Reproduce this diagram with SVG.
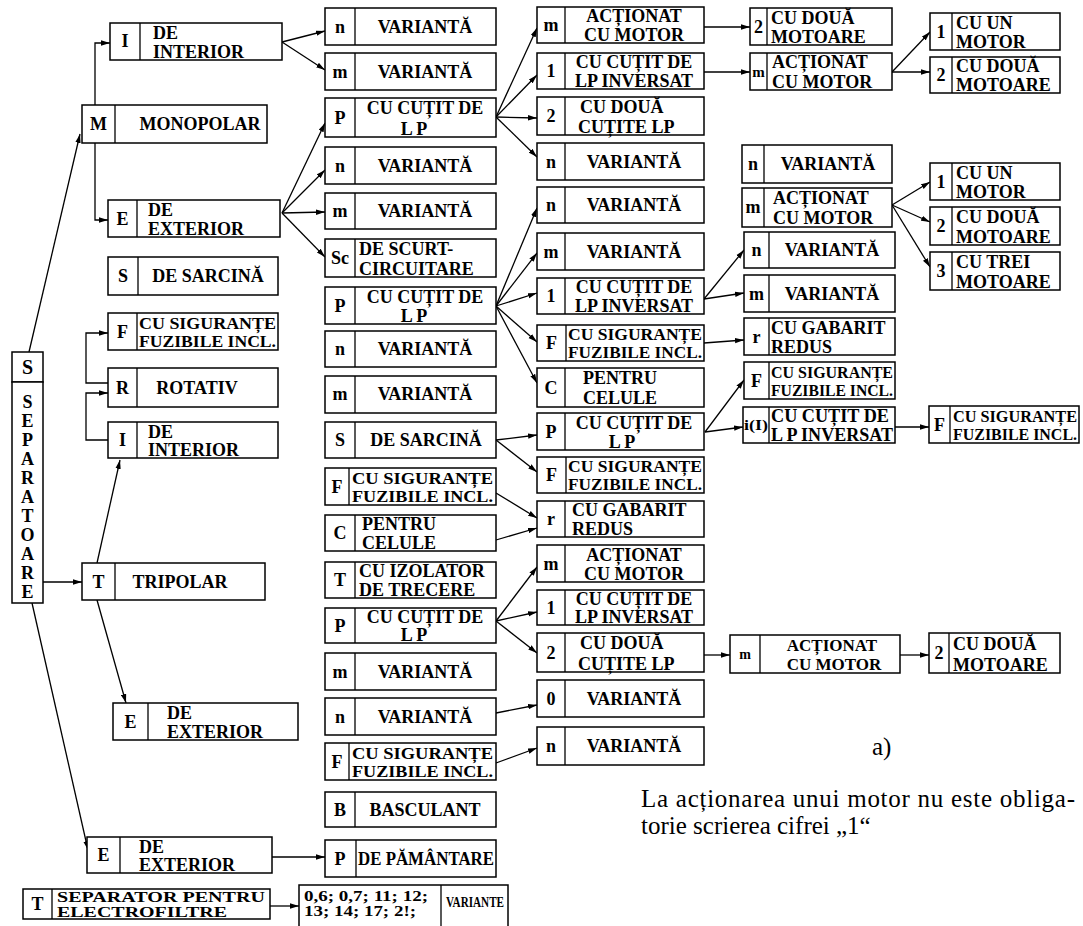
<svg xmlns="http://www.w3.org/2000/svg" width="1083" height="926" viewBox="0 0 1083 926">
<defs>
<style>
.b{fill:#fff;stroke:#000;stroke-width:1.5}
.d{stroke:#000;stroke-width:1.3}
.t{font-family:"Liberation Serif","Times New Roman",serif;font-weight:bold;font-size:18px;fill:#000}
.c{text-anchor:middle}
.s{font-size:16px}
.n{font-family:"Liberation Serif","Times New Roman",serif;font-size:25px;fill:#000}
#conn path{fill:none;stroke:#000;stroke-width:1.3;marker-end:url(#a)}
</style>
<marker id="a" viewBox="0 0 10 6" refX="10" refY="3" markerWidth="9" markerHeight="6" markerUnits="userSpaceOnUse" orient="auto"><path d="M0,0L10,3L0,6z" fill="#000"/></marker>
</defs>
<rect width="1083" height="926" fill="#fff"/>

<g id="conn">
<path d="M29,352L80,134"/>
<path d="M95,105V43H110"/>
<path d="M95,143V220H108"/>
<path d="M282,42L325,31"/>
<path d="M282,42L325,70"/>
<path d="M282,213L325,123"/>
<path d="M282,213L325,170"/>
<path d="M282,213L325,212"/>
<path d="M282,213L325,257"/>
<path d="M108,383H86V333H108"/>
<path d="M108,440H86V393H108"/>
<path d="M43,582H82"/>
<path d="M97,563L120,460"/>
<path d="M97,600L126,703"/>
<path d="M32,603L88,850"/>
<path d="M272,857H325"/>
<path d="M270,906H299"/>
<path d="M496,117L537,28"/>
<path d="M496,117L537,75"/>
<path d="M496,117L537,118"/>
<path d="M496,117L537,157"/>
<path d="M496,306L537,208"/>
<path d="M496,306L537,253"/>
<path d="M496,306L537,293"/>
<path d="M496,306L537,342"/>
<path d="M496,306L537,383"/>
<path d="M496,440L537,435"/>
<path d="M496,440L537,472"/>
<path d="M496,493L537,518"/>
<path d="M496,540L537,528"/>
<path d="M496,621L537,567"/>
<path d="M496,621L537,612"/>
<path d="M496,621L537,653"/>
<path d="M496,713L537,705"/>
<path d="M496,763L537,748"/>
<path d="M704,27H750"/>
<path d="M704,72H750"/>
<path d="M892,72L930,32"/>
<path d="M892,72H930"/>
<path d="M892,205L930,182"/>
<path d="M892,205L930,222"/>
<path d="M892,205L930,267"/>
<path d="M704,299L744,250"/>
<path d="M704,299L744,293"/>
<path d="M704,343L744,340"/>
<path d="M705,432L744,380"/>
<path d="M705,432L743,427"/>
<path d="M895,427H929"/>
<path d="M704,655H730"/>
<path d="M900,655H929"/>
</g>

<!-- left column -->
<g id="sep">
<rect class="b" x="12" y="352" width="31" height="30"/>
<text class="t c" x="27.5" y="374" style="font-size:20px">S</text>
<rect class="b" x="12" y="382" width="31" height="221"/>
<text class="t c" x="27.5" y="408">S</text>
<text class="t c" x="27.5" y="427">E</text>
<text class="t c" x="27.5" y="446">P</text>
<text class="t c" x="27.5" y="465">A</text>
<text class="t c" x="27.5" y="484">R</text>
<text class="t c" x="27.5" y="503">A</text>
<text class="t c" x="27.5" y="522">T</text>
<text class="t c" x="27.5" y="541">O</text>
<text class="t c" x="27.5" y="560">A</text>
<text class="t c" x="27.5" y="579">R</text>
<text class="t c" x="27.5" y="598">E</text>
</g>
<g id="mono">
<rect class="b" x="82" y="105" width="185" height="38"/><line class="d" x1="115" y1="105" x2="115" y2="143"/>
<text class="t c" x="98.5" y="130">M</text><text class="t c" x="200" y="130">MONOPOLAR</text>
</g>
<g id="mono-int">
<rect class="b" x="110" y="23" width="172" height="37"/><line class="d" x1="140" y1="23" x2="140" y2="60"/>
<text class="t c" x="125" y="47">I</text><text class="t" x="153" y="39">DE</text><text class="t" x="153" y="58">INTERIOR</text>
</g>
<g id="mono-ext">
<rect class="b" x="108" y="200" width="172" height="37"/><line class="d" x1="137" y1="200" x2="137" y2="237"/>
<text class="t c" x="122.5" y="225">E</text><text class="t" x="148" y="216">DE</text><text class="t" x="148" y="235">EXTERIOR</text>
</g>
<g id="mono-sarc">
<rect class="b" x="108" y="257" width="170" height="38"/><line class="d" x1="138" y1="257" x2="138" y2="295"/>
<text class="t c" x="123" y="282">S</text><text class="t c" x="208" y="282">DE SARCINĂ</text>
</g>
<g id="l-fuz">
<rect class="b" x="108" y="313" width="170" height="37"/><line class="d" x1="137" y1="313" x2="137" y2="350"/>
<text class="t c" x="122.5" y="338">F</text>
<text class="t s" x="139" y="329" textLength="137" lengthAdjust="spacingAndGlyphs">CU SIGURANȚE</text>
<text class="t s" x="139" y="347" textLength="137" lengthAdjust="spacingAndGlyphs">FUZIBILE INCL.</text>
</g>
<g id="rot">
<rect class="b" x="108" y="368" width="170" height="39"/><line class="d" x1="137" y1="368" x2="137" y2="407"/>
<text class="t c" x="122.5" y="394">R</text><text class="t c" x="197" y="394">ROTATIV</text>
</g>
<g id="tri-int">
<rect class="b" x="108" y="422" width="170" height="36"/><line class="d" x1="137" y1="422" x2="137" y2="458"/>
<text class="t c" x="122.5" y="446">I</text><text class="t" x="148" y="438">DE</text><text class="t" x="148" y="456">INTERIOR</text>
</g>
<g id="tri">
<rect class="b" x="82" y="563" width="183" height="37"/><line class="d" x1="115" y1="563" x2="115" y2="600"/>
<text class="t c" x="98.5" y="588">T</text><text class="t c" x="180" y="588">TRIPOLAR</text>
</g>
<g id="tri-ext">
<rect class="b" x="113" y="703" width="185" height="37"/><line class="d" x1="148" y1="703" x2="148" y2="740"/>
<text class="t c" x="130.5" y="728">E</text><text class="t" x="167" y="719">DE</text><text class="t" x="167" y="738">EXTERIOR</text>
</g>
<g id="ext2">
<rect class="b" x="87" y="837" width="185" height="36"/><line class="d" x1="120" y1="837" x2="120" y2="873"/>
<text class="t c" x="103.5" y="861">E</text><text class="t" x="139" y="853">DE</text><text class="t" x="139" y="871">EXTERIOR</text>
</g>
<g id="electro">
<rect class="b" x="23" y="889" width="247" height="30"/><line class="d" x1="52" y1="889" x2="52" y2="919"/>
<text class="t c" x="37.5" y="910">T</text>
<text class="t" x="57" y="902" style="font-size:15px" textLength="208" lengthAdjust="spacingAndGlyphs">SEPARATOR PENTRU</text>
<text class="t" x="57" y="917" style="font-size:15px" textLength="170" lengthAdjust="spacingAndGlyphs">ELECTROFILTRE</text>
</g>

<!-- column 2 -->
<g id="c2-1"><rect class="b" x="325" y="8" width="171" height="37"/><line class="d" x1="355" y1="8" x2="355" y2="45"/><text class="t c" x="340" y="33">n</text><text class="t c" x="425" y="33">VARIANTĂ</text></g>
<g id="c2-2"><rect class="b" x="325" y="53" width="171" height="37"/><line class="d" x1="355" y1="53" x2="355" y2="90"/><text class="t c" x="340" y="78">m</text><text class="t c" x="425" y="78">VARIANTĂ</text></g>
<g id="c2-3"><rect class="b" x="325" y="98" width="171" height="39"/><line class="d" x1="355" y1="98" x2="355" y2="137"/><text class="t c" x="340" y="124">P</text><text class="t c" x="425" y="114">CU CUȚIT DE</text><text class="t c" x="414" y="135">L P</text></g>
<g id="c2-4"><rect class="b" x="325" y="147" width="171" height="37"/><line class="d" x1="355" y1="147" x2="355" y2="184"/><text class="t c" x="340" y="172">n</text><text class="t c" x="425" y="172">VARIANTĂ</text></g>
<g id="c2-5"><rect class="b" x="325" y="193" width="171" height="36"/><line class="d" x1="355" y1="193" x2="355" y2="229"/><text class="t c" x="340" y="217">m</text><text class="t c" x="425" y="217">VARIANTĂ</text></g>
<g id="c2-6"><rect class="b" x="325" y="239" width="171" height="38"/><line class="d" x1="355" y1="239" x2="355" y2="277"/><text class="t c" x="340" y="264">Sc</text><text class="t" x="359" y="255">DE SCURT-</text><text class="t" x="359" y="275">CIRCUITARE</text></g>
<g id="c2-7"><rect class="b" x="325" y="287" width="171" height="37"/><line class="d" x1="355" y1="287" x2="355" y2="324"/><text class="t c" x="340" y="312">P</text><text class="t c" x="425" y="303">CU CUȚIT DE</text><text class="t c" x="414" y="322">L P</text></g>
<g id="c2-8"><rect class="b" x="325" y="331" width="171" height="36"/><line class="d" x1="355" y1="331" x2="355" y2="367"/><text class="t c" x="340" y="355">n</text><text class="t c" x="425" y="355">VARIANTĂ</text></g>
<g id="c2-9"><rect class="b" x="325" y="376" width="171" height="37"/><line class="d" x1="355" y1="376" x2="355" y2="413"/><text class="t c" x="340" y="400">m</text><text class="t c" x="425" y="400">VARIANTĂ</text></g>
<g id="c2-10"><rect class="b" x="325" y="422" width="171" height="36"/><line class="d" x1="355" y1="422" x2="355" y2="458"/><text class="t c" x="340" y="446">S</text><text class="t c" x="426" y="446">DE SARCINĂ</text></g>
<g id="c2-11"><rect class="b" x="325" y="468" width="171" height="37"/><line class="d" x1="349" y1="468" x2="349" y2="505"/><text class="t c" x="337" y="493">F</text><text class="t s" x="352" y="484" textLength="141" lengthAdjust="spacingAndGlyphs">CU SIGURANȚE</text><text class="t s" x="352" y="502" textLength="141" lengthAdjust="spacingAndGlyphs">FUZIBILE INCL.</text></g>
<g id="c2-12"><rect class="b" x="325" y="515" width="171" height="36"/><line class="d" x1="355" y1="515" x2="355" y2="551"/><text class="t c" x="340" y="539">C</text><text class="t" x="362" y="530">PENTRU</text><text class="t" x="362" y="549">CELULE</text></g>
<g id="c2-13"><rect class="b" x="325" y="562" width="171" height="36"/><line class="d" x1="355" y1="562" x2="355" y2="598"/><text class="t c" x="340" y="586">T</text><text class="t" x="359" y="577">CU IZOLATOR</text><text class="t" x="359" y="596">DE TRECERE</text></g>
<g id="c2-14"><rect class="b" x="325" y="608" width="171" height="35"/><line class="d" x1="355" y1="608" x2="355" y2="643"/><text class="t c" x="340" y="632">P</text><text class="t c" x="425" y="623">CU CUȚIT DE</text><text class="t c" x="414" y="641">L P</text></g>
<g id="c2-15"><rect class="b" x="325" y="653" width="171" height="37"/><line class="d" x1="355" y1="653" x2="355" y2="690"/><text class="t c" x="340" y="678">m</text><text class="t c" x="425" y="678">VARIANTĂ</text></g>
<g id="c2-16"><rect class="b" x="325" y="698" width="171" height="37"/><line class="d" x1="355" y1="698" x2="355" y2="735"/><text class="t c" x="340" y="723">n</text><text class="t c" x="425" y="723">VARIANTĂ</text></g>
<g id="c2-17"><rect class="b" x="325" y="743" width="171" height="37"/><line class="d" x1="349" y1="743" x2="349" y2="780"/><text class="t c" x="337" y="768">F</text><text class="t s" x="352" y="759" textLength="141" lengthAdjust="spacingAndGlyphs">CU SIGURANȚE</text><text class="t s" x="352" y="777" textLength="141" lengthAdjust="spacingAndGlyphs">FUZIBILE INCL.</text></g>
<g id="c2-18"><rect class="b" x="325" y="792" width="171" height="35"/><line class="d" x1="355" y1="792" x2="355" y2="827"/><text class="t c" x="340" y="816">B</text><text class="t c" x="425" y="816">BASCULANT</text></g>
<g id="c2-19"><rect class="b" x="325" y="840" width="171" height="37"/><line class="d" x1="356" y1="840" x2="356" y2="877"/><text class="t c" x="340" y="865">P</text><text class="t" x="358" y="865" textLength="136" lengthAdjust="spacingAndGlyphs">DE PĂMÂNTARE</text></g>
<g id="c2-20"><rect class="b" x="299" y="885" width="209" height="50"/><line class="d" x1="441" y1="885" x2="441" y2="935"/><text class="t" x="304" y="901" style="font-size:15px" textLength="124" lengthAdjust="spacingAndGlyphs">0,6; 0,7; 11; 12;</text><text class="t" x="304" y="916" style="font-size:15px" textLength="112" lengthAdjust="spacingAndGlyphs">13; 14; 17; 2!;</text><text class="t" x="446" y="907" style="font-size:15px" textLength="58" lengthAdjust="spacingAndGlyphs">VARIANTE</text></g>

<!-- column 3 -->
<g id="c3-1"><rect class="b" x="537" y="7" width="167" height="36"/><line class="d" x1="565" y1="7" x2="565" y2="43"/><text class="t c" x="551" y="31">m</text><text class="t c" x="634" y="22">ACȚIONAT</text><text class="t c" x="634" y="41">CU MOTOR</text></g>
<g id="c3-2"><rect class="b" x="537" y="53" width="167" height="36"/><line class="d" x1="565" y1="53" x2="565" y2="89"/><text class="t c" x="551" y="77">1</text><text class="t c" x="634" y="68">CU CUȚIT DE</text><text class="t c" x="634" y="87">LP INVERSAT</text></g>
<g id="c3-3"><rect class="b" x="537" y="97" width="167" height="38"/><line class="d" x1="565" y1="97" x2="565" y2="135"/><text class="t c" x="551" y="122">2</text><text class="t" x="580" y="113">CU DOUĂ</text><text class="t" x="578" y="133">CUȚITE LP</text></g>
<g id="c3-4"><rect class="b" x="537" y="143" width="167" height="37"/><line class="d" x1="565" y1="143" x2="565" y2="180"/><text class="t c" x="551" y="168">n</text><text class="t c" x="634" y="168">VARIANTĂ</text></g>
<g id="c3-5"><rect class="b" x="537" y="187" width="167" height="36"/><line class="d" x1="565" y1="187" x2="565" y2="223"/><text class="t c" x="551" y="211">n</text><text class="t c" x="634" y="211">VARIANTĂ</text></g>
<g id="c3-6"><rect class="b" x="537" y="233" width="167" height="37"/><line class="d" x1="565" y1="233" x2="565" y2="270"/><text class="t c" x="551" y="258">m</text><text class="t c" x="634" y="258">VARIANTĂ</text></g>
<g id="c3-7"><rect class="b" x="537" y="278" width="167" height="36"/><line class="d" x1="565" y1="278" x2="565" y2="314"/><text class="t c" x="551" y="302">1</text><text class="t c" x="634" y="293">CU CUȚIT DE</text><text class="t c" x="634" y="312">LP INVERSAT</text></g>
<g id="c3-8"><rect class="b" x="537" y="325" width="167" height="36"/><line class="d" x1="566" y1="325" x2="566" y2="361"/><text class="t c" x="551.5" y="349">F</text><text class="t s" x="568" y="340" textLength="134" lengthAdjust="spacingAndGlyphs">CU SIGURANȚE</text><text class="t s" x="568" y="358" textLength="134" lengthAdjust="spacingAndGlyphs">FUZIBILE INCL.</text></g>
<g id="c3-9"><rect class="b" x="537" y="368" width="167" height="39"/><line class="d" x1="565" y1="368" x2="565" y2="407"/><text class="t c" x="551" y="394">C</text><text class="t c" x="620" y="384">PENTRU</text><text class="t c" x="620" y="404">CELULE</text></g>
<g id="c3-10"><rect class="b" x="537" y="413" width="167" height="37"/><line class="d" x1="565" y1="413" x2="565" y2="450"/><text class="t c" x="551" y="438">P</text><text class="t c" x="634" y="429">CU CUȚIT DE</text><text class="t c" x="622" y="448">L P</text></g>
<g id="c3-11"><rect class="b" x="537" y="457" width="167" height="36"/><line class="d" x1="566" y1="457" x2="566" y2="493"/><text class="t c" x="551.5" y="481">F</text><text class="t s" x="568" y="472" textLength="134" lengthAdjust="spacingAndGlyphs">CU SIGURANȚE</text><text class="t s" x="568" y="490" textLength="134" lengthAdjust="spacingAndGlyphs">FUZIBILE INCL.</text></g>
<g id="c3-12"><rect class="b" x="537" y="501" width="167" height="36"/><line class="d" x1="565" y1="501" x2="565" y2="537"/><text class="t c" x="551" y="525">r</text><text class="t" x="572" y="516">CU GABARIT</text><text class="t" x="572" y="535">REDUS</text></g>
<g id="c3-13"><rect class="b" x="537" y="545" width="167" height="37"/><line class="d" x1="565" y1="545" x2="565" y2="582"/><text class="t c" x="551" y="570">m</text><text class="t c" x="634" y="561">ACȚIONAT</text><text class="t c" x="634" y="580">CU MOTOR</text></g>
<g id="c3-14"><rect class="b" x="537" y="590" width="167" height="35"/><line class="d" x1="565" y1="590" x2="565" y2="625"/><text class="t c" x="551" y="614">1</text><text class="t c" x="634" y="605">CU CUȚIT DE</text><text class="t c" x="634" y="623">LP INVERSAT</text></g>
<g id="c3-15"><rect class="b" x="537" y="633" width="167" height="39"/><line class="d" x1="565" y1="633" x2="565" y2="672"/><text class="t c" x="551" y="659">2</text><text class="t" x="580" y="649">CU DOUĂ</text><text class="t" x="578" y="670">CUȚITE LP</text></g>
<g id="c3-16"><rect class="b" x="537" y="680" width="167" height="37"/><line class="d" x1="565" y1="680" x2="565" y2="717"/><text class="t c" x="551" y="705">0</text><text class="t c" x="634" y="705">VARIANTĂ</text></g>
<g id="c3-17"><rect class="b" x="537" y="727" width="167" height="38"/><line class="d" x1="565" y1="727" x2="565" y2="765"/><text class="t c" x="551" y="752">n</text><text class="t c" x="634" y="752">VARIANTĂ</text></g>

<!-- column 4 -->
<g id="c4-1"><rect class="b" x="750" y="8" width="142" height="37"/><line class="d" x1="767" y1="8" x2="767" y2="45"/><text class="t c" x="758.5" y="33">2</text><text class="t" x="771" y="24">CU DOUĂ</text><text class="t" x="771" y="43">MOTOARE</text></g>
<g id="c4-2"><rect class="b" x="750" y="53" width="142" height="37"/><line class="d" x1="767" y1="53" x2="767" y2="90"/><text class="t c" x="758.5" y="77" style="font-size:15px">m</text><text class="t" x="772" y="68">ACȚIONAT</text><text class="t" x="772" y="88">CU MOTOR</text></g>
<g id="c4-3"><rect class="b" x="742" y="145" width="150" height="38"/><line class="d" x1="764" y1="145" x2="764" y2="183"/><text class="t c" x="753" y="170">n</text><text class="t c" x="828" y="170">VARIANTĂ</text></g>
<g id="c4-4"><rect class="b" x="742" y="188" width="150" height="39"/><line class="d" x1="764" y1="188" x2="764" y2="227"/><text class="t c" x="753" y="213">m</text><text class="t" x="773" y="204">ACȚIONAT</text><text class="t" x="773" y="224">CU MOTOR</text></g>
<g id="c4-5"><rect class="b" x="744" y="232" width="151" height="36"/><line class="d" x1="769" y1="232" x2="769" y2="268"/><text class="t c" x="756.5" y="256">n</text><text class="t c" x="832" y="256">VARIANTĂ</text></g>
<g id="c4-6"><rect class="b" x="744" y="275" width="151" height="37"/><line class="d" x1="769" y1="275" x2="769" y2="312"/><text class="t c" x="756.5" y="300">m</text><text class="t c" x="832" y="300">VARIANTĂ</text></g>
<g id="c4-7"><rect class="b" x="744" y="318" width="151" height="37"/><line class="d" x1="769" y1="318" x2="769" y2="355"/><text class="t c" x="756.5" y="343">r</text><text class="t" x="771" y="334">CU GABARIT</text><text class="t" x="771" y="353">REDUS</text></g>
<g id="c4-8"><rect class="b" x="744" y="362" width="151" height="37"/><line class="d" x1="769" y1="362" x2="769" y2="399"/><text class="t c" x="756.5" y="387">F</text><text class="t s" x="771" y="378" textLength="122" lengthAdjust="spacingAndGlyphs">CU SIGURANȚE</text><text class="t s" x="771" y="396" textLength="122" lengthAdjust="spacingAndGlyphs">FUZIBILE INCL.</text></g>
<g id="c4-9"><rect class="b" x="743" y="407" width="152" height="36"/><line class="d" x1="769" y1="407" x2="769" y2="443"/><text class="t c" x="756" y="430" style="font-size:14px" textLength="24" lengthAdjust="spacingAndGlyphs">i(I)</text><text class="t" x="771" y="422" textLength="118" lengthAdjust="spacingAndGlyphs">CU CUȚIT DE</text><text class="t" x="771" y="441" textLength="122" lengthAdjust="spacingAndGlyphs">L P INVERSAT</text></g>
<g id="c4-10"><rect class="b" x="730" y="635" width="170" height="38"/><line class="d" x1="760" y1="635" x2="760" y2="673"/><text class="t c" x="745" y="659" style="font-size:14px">m</text><text class="t c" x="832" y="651" style="font-size:17px">ACȚIONAT</text><text class="t c" x="834" y="670" style="font-size:17px">CU MOTOR</text></g>

<!-- column 5 -->
<g id="c5-1"><rect class="b" x="930" y="13" width="130" height="37"/><line class="d" x1="952" y1="13" x2="952" y2="50"/><text class="t c" x="941" y="38">1</text><text class="t" x="956" y="29">CU UN</text><text class="t" x="956" y="48">MOTOR</text></g>
<g id="c5-2"><rect class="b" x="930" y="57" width="130" height="36"/><line class="d" x1="952" y1="57" x2="952" y2="93"/><text class="t c" x="941" y="81">2</text><text class="t" x="956" y="72">CU DOUĂ</text><text class="t" x="956" y="91">MOTOARE</text></g>
<g id="c5-3"><rect class="b" x="930" y="163" width="130" height="37"/><line class="d" x1="952" y1="163" x2="952" y2="200"/><text class="t c" x="941" y="188">1</text><text class="t" x="956" y="179">CU UN</text><text class="t" x="956" y="198">MOTOR</text></g>
<g id="c5-4"><rect class="b" x="930" y="207" width="130" height="38"/><line class="d" x1="952" y1="207" x2="952" y2="245"/><text class="t c" x="941" y="232">2</text><text class="t" x="956" y="223">CU DOUĂ</text><text class="t" x="956" y="243">MOTOARE</text></g>
<g id="c5-5"><rect class="b" x="930" y="252" width="130" height="38"/><line class="d" x1="952" y1="252" x2="952" y2="290"/><text class="t c" x="941" y="277">3</text><text class="t" x="956" y="268">CU TREI</text><text class="t" x="956" y="288">MOTOARE</text></g>
<g id="c5-6"><rect class="b" x="929" y="406" width="150" height="37"/><line class="d" x1="950" y1="406" x2="950" y2="443"/><text class="t c" x="939.5" y="431">F</text><text class="t s" x="953" y="422" textLength="124" lengthAdjust="spacingAndGlyphs">CU SIGURANȚE</text><text class="t s" x="953" y="440" textLength="124" lengthAdjust="spacingAndGlyphs">FUZIBILE INCL.</text></g>
<g id="c5-7"><rect class="b" x="929" y="633" width="131" height="40"/><line class="d" x1="949" y1="633" x2="949" y2="673"/><text class="t c" x="939" y="659">2</text><text class="t" x="953" y="650">CU DOUĂ</text><text class="t" x="953" y="671">MOTOARE</text></g>

<!-- notes -->
<text class="n" x="872" y="755">a)</text>
<text class="n" x="641" y="807" textLength="434">La acționarea unui motor nu este obliga-</text>
<text class="n" x="641" y="834">torie scrierea cifrei „1“</text>
</svg>
